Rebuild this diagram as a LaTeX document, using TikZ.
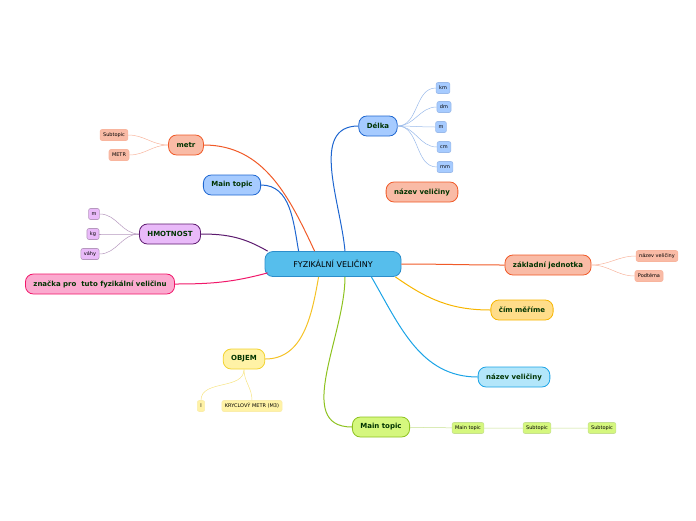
\documentclass[tikz,border=0pt]{standalone}
\usepackage{fontspec}
\setmainfont{DejaVu Sans}
\tikzset{
  topic/.style={draw, rounded corners=8pt, line width=0.8pt, minimum height=20pt, inner xsep=8pt, font=\fontsize{7}{8}\bfseries\selectfont, text=green!20!black},
  sub/.style={draw, rounded corners=2pt, line width=0.6pt, minimum height=11pt, inner xsep=3pt, inner ysep=1pt, font=\fontsize{5}{6}\selectfont},
  link/.style={line width=1pt},
  twig/.style={line width=0.5pt}
}
\definecolor{rootfill}{HTML}{56BEEC}\definecolor{rootline}{HTML}{2C8ECB}
\definecolor{orfill}{HTML}{F9BBA6}\definecolor{orline}{HTML}{F05A28}
\definecolor{blfill}{HTML}{A6CBFF}\definecolor{blline}{HTML}{1E66D0}
\definecolor{pufill}{HTML}{E9BAF9}\definecolor{puline}{HTML}{5C1A6E}
\definecolor{pkfill}{HTML}{FBAACF}\definecolor{pkline}{HTML}{F0186A}
\definecolor{yefill}{HTML}{FFF2A6}\definecolor{yeline}{HTML}{F2D22E}
\definecolor{gofill}{HTML}{FFDD8A}\definecolor{goline}{HTML}{F7B500}
\definecolor{cyfill}{HTML}{B3E6FA}\definecolor{cyline}{HTML}{1BA3E6}
\definecolor{grfill}{HTML}{D5F77E}\definecolor{grline}{HTML}{8DC21F}
\begin{document}
\begin{tikzpicture}[x=1pt,y=-1pt]
\useasboundingbox (0,0) rectangle (696,520);

% central topic
\node[draw=rootline, fill=rootfill, rounded corners=8pt, line width=0.8pt, minimum width=136pt, minimum height=25pt, font=\fontsize{8}{9}\selectfont] (root) at (333,264) {FYZIKÁLNÍ VELIČINY};

% main topics
\node[topic, draw=orline, fill=orfill] (metr) at (186,145) {metr};
\node[topic, draw=blline, fill=blfill] (mainb) at (232,185) {Main topic};
\node[topic, draw=puline, fill=pufill] (hmot) at (170,234) {HMOTNOST};
\node[topic, draw=pkline, fill=pkfill] (znacka) at (100,284) {značka pro\ \ tuto fyzikální veličinu};
\node[topic, draw=yeline, fill=yefill] (objem) at (244,359) {OBJEM};
\node[topic, draw=blline, fill=blfill] (delka) at (378,126) {Délka};
\node[topic, draw=orline, fill=orfill] (nazevo) at (422,192) {název veličiny};
\node[topic, draw=orline, fill=orfill] (zakl) at (548,265) {základní jednotka};
\node[topic, draw=goline, fill=gofill] (cim) at (522,310) {čím měříme};
\node[topic, draw=cyline, fill=cyfill] (nazevc) at (514,377) {název veličiny};
\node[topic, draw=grline, fill=grline!60!grfill, fill=grfill] (maing) at (381,427) {Main topic};

% subtopics
\foreach \n/\t/\x/\y in {km/km/443/88, dm/dm/444/107, m/m/441/127, cm/cm/444/147, mm/mm/445/167}
  \node[sub, draw=blline!45, fill=blfill] (d\n) at (\x,\y) {\t};
\foreach \n/\t/\x/\y in {a/Subtopic/114/135, b/METR/119/155}
  \node[sub, draw=orline!45, fill=orfill] (m\n) at (\x,\y) {\t};
\foreach \n/\t/\x/\y in {a/m/94/214, b/kg/93/234, c/váhy/90/254}
  \node[sub, draw=puline!45, fill=pufill] (h\n) at (\x,\y) {\t};
\foreach \n/\t/\x/\y in {a/název veličiny/657/256, b/Podtéma/649/276}
  \node[sub, draw=orline!45, fill=orfill] (z\n) at (\x,\y) {\t};
\node[sub, draw=yeline!40, fill=yefill] (oa) at (201,406) {l};
\node[sub, draw=yeline!40, fill=yefill] (ob) at (252,406) {KRYCLOVÝ METR (M3)};
\node[sub, draw=grline!50, fill=grfill] (ga) at (468,428) {Main topic};
\node[sub, draw=grline!50, fill=grfill] (gb) at (537,428) {Subtopic};
\node[sub, draw=grline!50, fill=grfill] (gc) at (602,428) {Subtopic};

% branches
\draw[link, orline] (root.north west) ++(50,0) to[out=115,in=0] (metr.east);
\draw[link, blline] (root.north west) ++(34,0) to[out=100,in=0] (mainb.east);
\draw[link, puline] (root.north west) ++(3,0) to[out=150,in=0] (hmot.east);
\draw[link, pkline] (root.south west) ++(3,-4) to[out=195,in=0] (znacka.east);
\draw[link, yeline!80!orange] (root.south west) ++(54,0) to[out=-100,in=0] (objem.east);
\draw[link, blline] (root.north) ++(12,0) to[out=95,in=180] (delka.west);
\draw[link, orline] (root.east) to[out=0,in=180] (zakl.west);
\draw[link, goline] (root.south east) ++(-6,0) to[out=-35,in=180] (cim.west);
\draw[link, cyline] (root.south east) ++(-30,0) to[out=-60,in=180] (nazevc.west);
\draw[link, grline] (root.south) ++(12,0) to[out=-90,in=180] (maing.west);

% twigs
\foreach \n in {km,dm,m,cm,mm}
  \draw[twig, blline!45] (delka.east) to[out=0,in=180] (d\n.west);
\foreach \n in {a,b}
  \draw[twig, orline!45] (metr.west) to[out=180,in=0] (m\n.east);
\foreach \n in {a,b,c}
  \draw[twig, puline!45] (hmot.west) to[out=180,in=0] (h\n.east);
\foreach \n in {a,b}
  \draw[twig, orline!45] (zakl.east) to[out=0,in=180] (z\n.west);
\draw[twig, yeline!60] (objem.south) to[out=-90,in=90] (oa.north);
\draw[twig, yeline!60] (objem.south) to[out=-90,in=90] (ob.north);
\draw[twig, grline!50] (maing) -- (ga) -- (gb) -- (gc);
\end{tikzpicture}
\end{document}
